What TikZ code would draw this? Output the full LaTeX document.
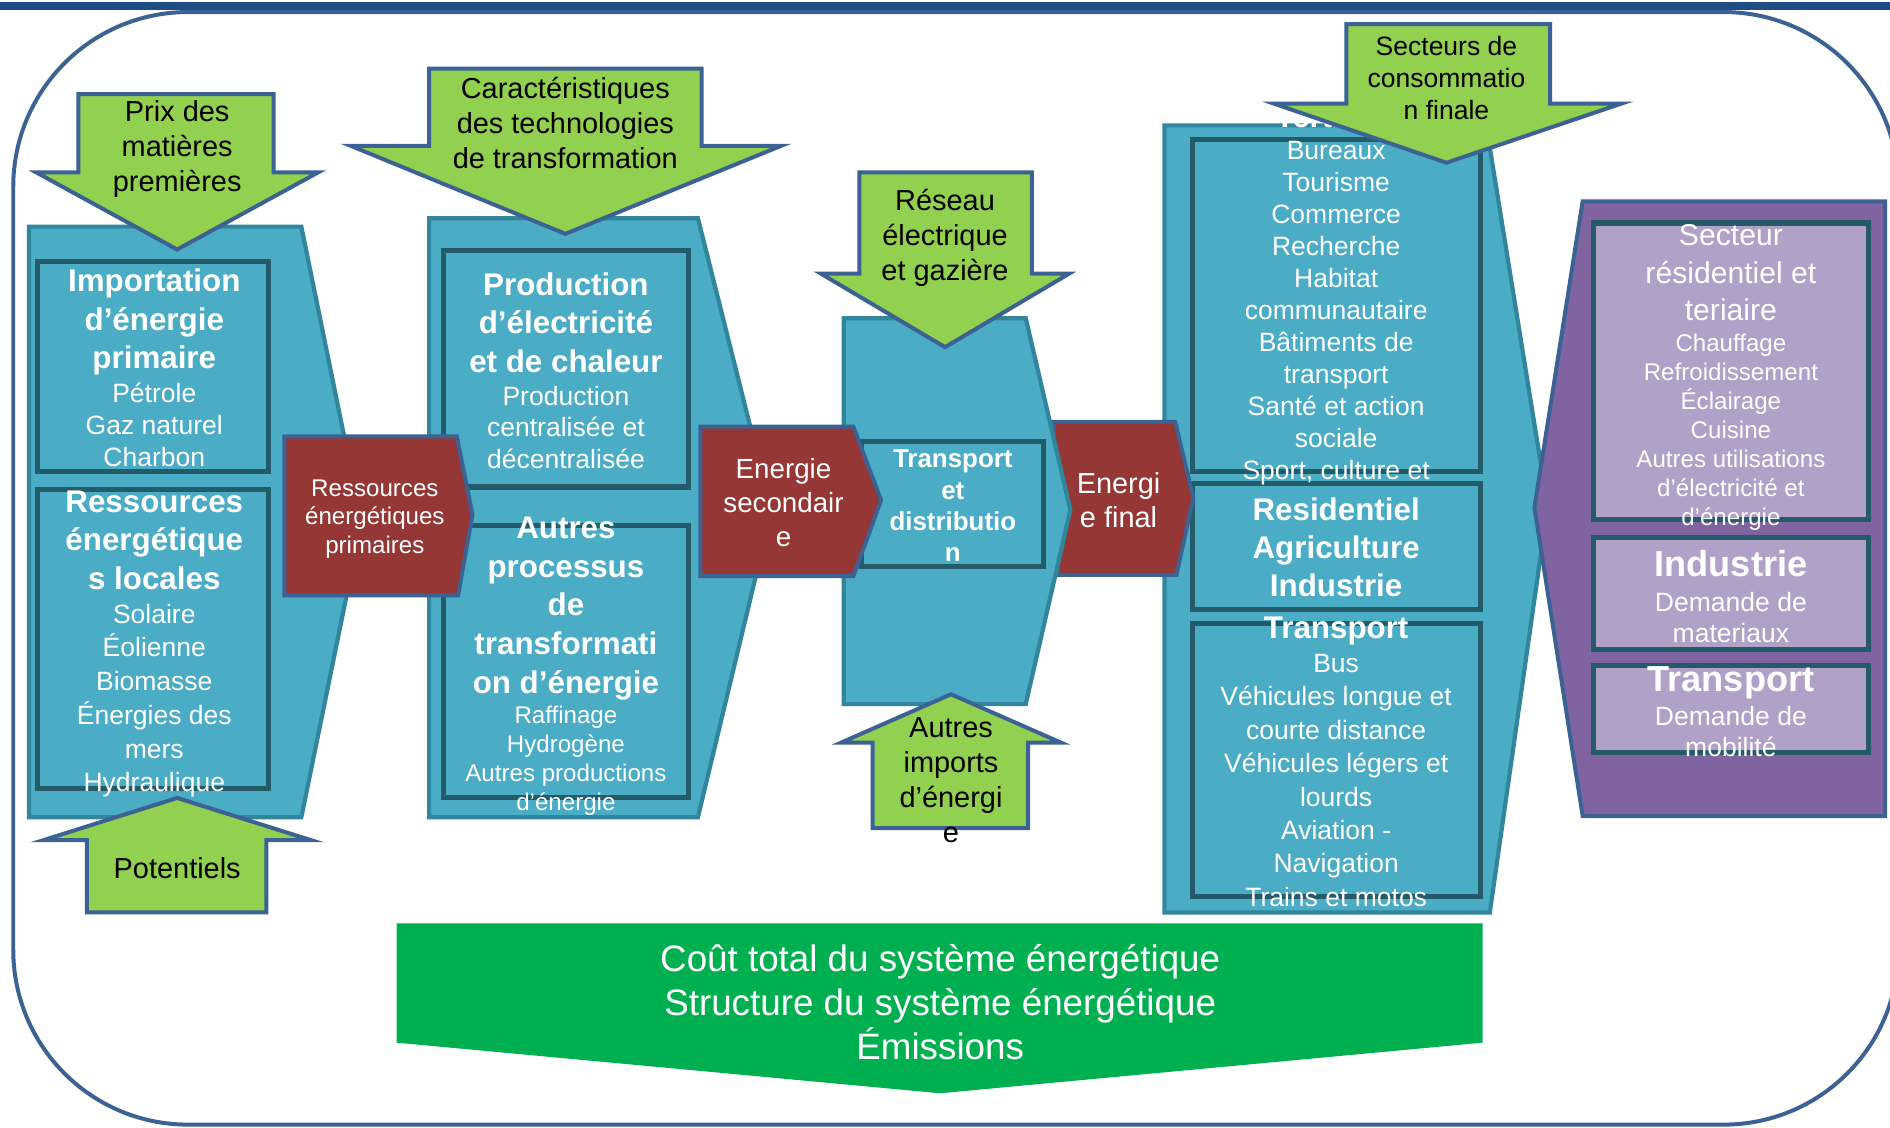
\documentclass[tikz,border=0pt]{standalone}
\usepackage{fontspec}
\setmainfont{Liberation Sans}
\definecolor{cTop}{HTML}{1F4E85}
\definecolor{cBord}{HTML}{3C6193}
\definecolor{cGreen}{HTML}{92D050}
\definecolor{cTeal}{HTML}{4BACC6}
\definecolor{cTealB}{HTML}{31869B}
\definecolor{cInner}{HTML}{235B68}
\definecolor{cRed}{HTML}{953735}
\definecolor{cPur}{HTML}{8064A2}
\definecolor{cLav}{HTML}{B1A0C7}
\definecolor{cBan}{HTML}{00B050}
\newcommand\ml[6]{%
  \foreach \lbl [count=\i] in {#6}{\node[#4,anchor=base] (#5\i) at (#1,{#2+(\i-1)*#3}) {\lbl};}}
\begin{document}
\begin{tikzpicture}[x=1pt,y=-1pt,
  grn/.style={fill=cGreen,draw=cBord,line width=3.3pt},
  pnl/.style={fill=cTeal,draw=cTealB,line width=3.5pt},
  ibox/.style={draw=cInner,line width=4.2pt},
  lbox/.style={fill=cLav,draw=cInner,line width=4.2pt},
  rd/.style={fill=cRed,draw=cBord,line width=3.3pt},
  pur/.style={fill=cPur,draw=cBord,line width=3.3pt},
  txt/.style={inner sep=0pt,text=white},
  w20/.style={txt,font=\fontsize{20}{24}\selectfont},
  w22/.style={txt,font=\fontsize{22}{26}\selectfont},
  w23/.style={txt,font=\fontsize{23}{28}\selectfont},
  w24/.style={txt,font=\fontsize{24}{29}\selectfont},
  w25/.style={txt,font=\fontsize{25}{30}\selectfont},
  w30/.style={txt,font=\fontsize{30.5}{36}\selectfont},
  wb22/.style={txt,font=\fontsize{21.5}{26}\selectfont\bfseries},
  wb26/.style={txt,font=\fontsize{26}{31}\selectfont\bfseries},
  wb30/.style={txt,font=\fontsize{30}{36}\selectfont\bfseries},
  k22/.style={inner sep=0pt,text=black,font=\fontsize{22}{26}\selectfont},
  k24/.style={inner sep=0pt,text=black,font=\fontsize{24}{29}\selectfont}]
\useasboundingbox (0,0) rectangle (1568,935);
\fill[white] (0,0) rectangle (1568,935);
% frame
\draw[draw=cBord,line width=3.3pt,rounded corners=145pt] (11,10) rectangle (1575,933);
\fill[cTop] (0,1.5) rectangle (1568,8);
% panel 1
\filldraw[pnl] (24,188) -- (250,188) -- (300,433) -- (250,678) -- (24,678) -- cycle;
\draw[ibox] (31,217) rectangle (223,391);
\draw[ibox] (31,406) rectangle (223,654);
\ml{128}{242}{32}{wb26}{impA}{Importation,d’énergie,primaire}
\ml{128}{334}{26.5}{w22}{impB}{Pétrole,Gaz naturel,Charbon}
\ml{128}{425}{32}{wb26}{resA}{Ressources,énergétique,s locales}
\ml{128}{517}{28}{w22}{resB}{Solaire,Éolienne,Biomasse,Énergies des,mers,Hydraulique}
% panel 2
\filldraw[pnl] (356,181) -- (579,181) -- (640,424) -- (579,678) -- (356,678) -- cycle;
\draw[ibox] (368,208) rectangle (571,404);
\draw[ibox] (368,436) rectangle (571,662);
\ml{469.5}{245}{32}{wb26}{prA}{Production,d’électricité,et de chaleur}
\ml{469.5}{336}{26.5}{w22}{prB}{Production,centralisée et,décentralisée}
\ml{469.5}{447}{32}{wb26}{auA}{Autres,processus,de,transformati,on d’énergie}
\ml{469.5}{600}{24}{w20}{auB}{Raffinage,Hydrogène,Autres productions,d’énergie}
% red 1
\filldraw[rd] (236,362) -- (379,362) -- (392,427) -- (380,494) -- (236,494) -- cycle;
\ml{311}{412}{23.5}{w20}{rA}{Ressources,énergétiques,primaires}
% panel 4
\filldraw[pnl] (966,104) -- (1233,104) -- (1284,420) -- (1236,757) -- (966,757) -- cycle;
\draw[ibox] (989,116) rectangle (1228,391);
\draw[ibox] (989,401) rectangle (1228,506);
\draw[ibox] (989,517) rectangle (1228,744);
\ml{1108.5}{106}{26}{wb26}{terA}{Tertiaire}
\ml{1108.5}{132}{26.6}{w22}{terB}{Bureaux,Tourisme,Commerce,Recherche,Habitat,communautaire,Bâtiments de,transport,Santé et action,sociale,{Sport, culture et}}
\ml{1108.5}{432}{31.5}{wb26}{rai}{Residentiel,Agriculture,Industrie}
\ml{1108.5}{530}{0}{wb26}{trA}{Transport}
\ml{1108.5}{558}{27.7}{w22}{trB}{Bus,Véhicules longue et,courte distance,Véhicules légers et,lourds,Aviation -,Navigation,Trains et motos}
% red 3
\filldraw[rd] (874,350) -- (975,350) -- (990,413) -- (976,477) -- (878,477) -- cycle;
\ml{928}{409}{29}{w24}{rC}{Energi,e final}
% panel 3
\filldraw[pnl] (700,264) -- (851,264) -- (888,423) -- (851,584) -- (700,584) -- cycle;
\draw[ibox] (715,366) rectangle (866,470);
\ml{790.5}{388}{26}{wb22}{td}{Transport,et,distributio,n}
% red 2
\filldraw[rd] (581,354) -- (708,354) -- (731,415) -- (708,478) -- (581,478) -- cycle;
\ml{650}{397}{28}{w23}{rB}{Energie,secondair,e}
% purple panel
\filldraw[pur] (1313,167) -- (1564,167) -- (1564,677) -- (1313,677) -- (1273,421) -- cycle;
\filldraw[lbox] (1322,185) rectangle (1550,431);
\filldraw[lbox] (1322,446) rectangle (1550,539);
\filldraw[lbox] (1322,552) rectangle (1550,624);
\ml{1436}{204}{31}{w25}{srA}{Secteur,résidentiel et,teriaire}
\ml{1436}{292}{24}{w20}{srB}{Chauffage,Refroidissement,Éclairage,Cuisine,Autres utilisations,d'électricité et,d'énergie}
\ml{1436}{478}{0}{wb30}{inA}{Industrie}
\ml{1436}{507}{26}{w22}{inB}{Demande de,materiaux}
\ml{1436}{574}{0}{wb30}{tpA}{Transport}
\ml{1436}{602}{26}{w22}{tpB}{Demande de,mobilité}
% green arrows
\filldraw[grn] (65,78) -- (227,78) -- (227,143) -- (264,143) -- (147,207) -- (30,143) -- (65,143) -- cycle;
\ml{147}{101}{29}{k24}{px}{Prix des,matières,premières}
\filldraw[grn] (356,57) -- (582,57) -- (582,121) -- (648,121) -- (469,194) -- (291,121) -- (356,121) -- cycle;
\ml{469}{82}{29}{k24}{ca}{Caractéristiques,des technologies,de transformation}
\filldraw[grn] (713,143) -- (856,143) -- (856,227) -- (887,227) -- (784,288) -- (681,227) -- (713,227) -- cycle;
\ml{784}{175}{29}{k24}{re}{Réseau,électrique,et gazière}
\filldraw[grn] (1117,20) -- (1286,20) -- (1286,86) -- (1345,86) -- (1200,135) -- (1057,86) -- (1117,86) -- cycle;
\ml{1200}{46}{26.5}{k22}{se}{Secteurs de,consommatio,n finale}
\filldraw[grn] (147,662) -- (258,697) -- (221,697) -- (221,757) -- (72,757) -- (72,697) -- (36,697) -- cycle;
\ml{147}{729}{0}{k24}{po}{Potentiels}
\filldraw[grn] (789,576) -- (880,616) -- (853,616) -- (853,687) -- (724,687) -- (724,616) -- (698,616) -- cycle;
\ml{789}{612}{29}{k24}{ai}{Autres,imports,d’énergi,e}
% banner
\fill[cBan] (329,766) -- (1230,766) -- (1230,865) -- (780,907) -- (329,865) -- cycle;
\ml{780}{806}{36.5}{w30}{ban}{Coût total du système énergétique,Structure du système énergétique,Émissions}
\end{tikzpicture}
\end{document}
